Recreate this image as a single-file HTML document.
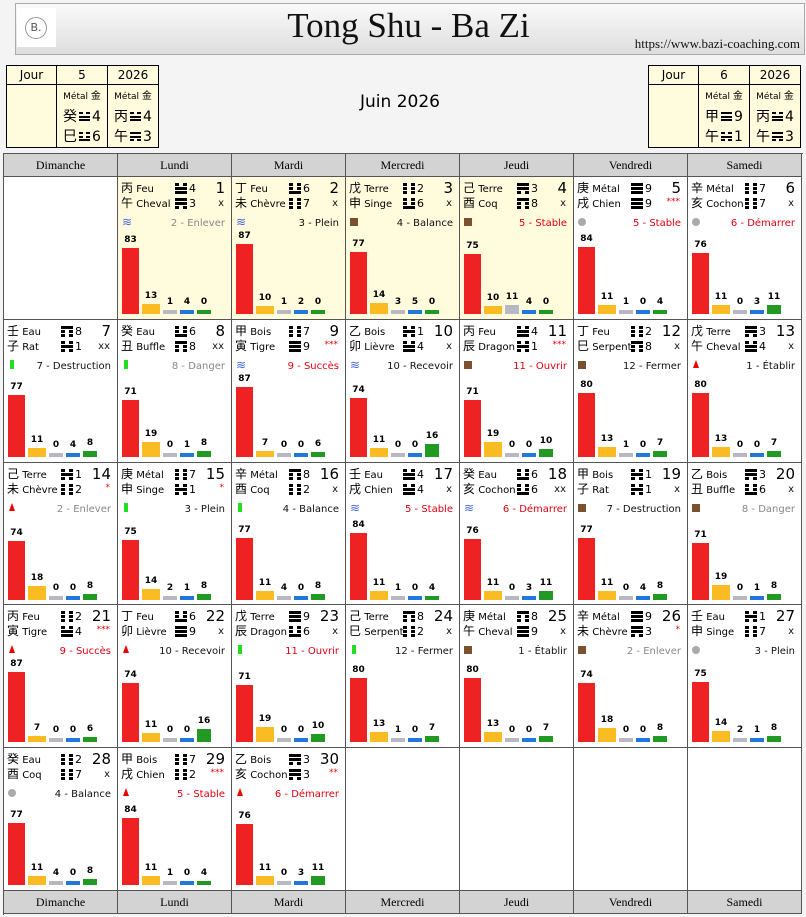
<!DOCTYPE html>
<html><head><meta charset="utf-8">
<style>
*{margin:0;padding:0;box-sizing:border-box}
body{width:806px;height:917px;background:#f4f4f4;position:relative;overflow:hidden;font-family:"DejaVu Sans","Liberation Sans","Noto Sans CJK SC",sans-serif;}
.a{position:absolute;white-space:nowrap}
#hdr{left:15px;top:3px;width:790px;height:52px;border:1px solid #aaa;background:linear-gradient(#fafafa,#dedede)}
.mt{position:absolute;border-collapse:collapse;background:#fffbdc;font-size:12px}
.mt td{border:1px solid #000;text-align:center;padding:0}
.cell{position:absolute;border-right:1px solid #555;border-bottom:1px solid #555;background:#fff;overflow:hidden}
.hd{position:absolute;background:#d3d3d3;border-right:1px solid #555;font-family:"Liberation Serif",serif;font-size:12px;text-align:center;line-height:22px}
.t{font-size:10px;position:absolute;white-space:nowrap;line-height:12px}
.c{font-family:"Noto Sans CJK SC",sans-serif;font-size:12px}
.tg{position:absolute;width:12px;height:11px}
.tg i{position:absolute;left:0;height:3px;background:#000}
.tgi{display:inline-block;position:relative;width:11px;height:10px;vertical-align:-1px;margin:0 2px}
.tgi i{position:absolute;left:0;height:2.5px;background:#000}
.bar{position:absolute}
.bv{position:absolute;font-size:9px;font-weight:bold;text-align:center;width:20px}
.ml{font-size:14px;line-height:19px}
</style></head><body>
<div id="hdr" class="a">
 <div class="a" style="left:1px;top:4px;width:39px;height:39px;background:#fff;"><div class="a" style="left:8px;top:9px;width:22px;height:22px;border:1px solid #999;border-radius:50%;font-size:11px;text-align:center;line-height:20px;color:#555">B.</div></div>
 <div class="a" style="left:0;width:785px;top:2px;text-align:center;font-family:'Liberation Serif',serif;font-size:35px;color:#111">Tong Shu - Ba Zi</div>
 <div class="a" style="right:4px;top:32px;font-family:'Liberation Serif',serif;font-size:13px;color:#111">https://www.bazi-coaching.com</div>
</div>
<table class="mt" style="left:6px;top:65px;width:153px;height:79px">
<tr style="height:19px"><td style="width:50px">Jour</td><td style="width:51px">5</td><td>2026</td></tr>
<tr><td></td><td class="ml"><span style="font-size:9px">Métal <span class="c" style="font-size:10px">金</span></span><br><span class="c" style="font-size:14px">癸</span><span class="tgi" data-n="4"></span>4<br><span class="c" style="font-size:14px">巳</span><span class="tgi" data-n="6"></span>6</td><td class="ml"><span style="font-size:9px">Métal <span class="c" style="font-size:10px">金</span></span><br><span class="c" style="font-size:14px">丙</span><span class="tgi" data-n="4"></span>4<br><span class="c" style="font-size:14px">午</span><span class="tgi" data-n="3"></span>3</td></tr></table>
<div class="a" style="left:360px;top:92px;font-size:17px;">Juin 2026</div>
<table class="mt" style="left:648px;top:65px;width:153px;height:79px">
<tr style="height:19px"><td style="width:50px">Jour</td><td style="width:51px">6</td><td>2026</td></tr>
<tr><td></td><td class="ml"><span style="font-size:9px">Métal <span class="c" style="font-size:10px">金</span></span><br><span class="c" style="font-size:14px">甲</span><span class="tgi" data-n="9"></span>9<br><span class="c" style="font-size:14px">午</span><span class="tgi" data-n="1"></span>1</td><td class="ml"><span style="font-size:9px">Métal <span class="c" style="font-size:10px">金</span></span><br><span class="c" style="font-size:14px">丙</span><span class="tgi" data-n="4"></span>4<br><span class="c" style="font-size:14px">午</span><span class="tgi" data-n="3"></span>3</td></tr></table>
<div id="grid" class="a" style="left:3px;top:153px;width:800px;height:762px;border-left:1px solid #555;border-top:1px solid #555"></div>
<script>
var days=["Dimanche","Lundi","Mardi","Mercredi","Jeudi","Vendredi","Samedi"];
var xs=[4,118,232,346,460,574,688,802];
var ys=[177,320,463,605,748,891];
var D=[
["丙","Feu",4,"午","Cheval",3,"x","w","2 - Enlever","g",[83,13,1,4,0]],
["丁","Feu",6,"未","Chèvre",7,"x","w","3 - Plein","k",[87,10,1,2,0]],
["戊","Terre",2,"申","Singe",6,"x","s","4 - Balance","k",[77,14,3,5,0]],
["己","Terre",3,"酉","Coq",8,"x","s","5 - Stable","r",[75,10,11,4,0]],
["庚","Métal",9,"戌","Chien",9,"***","o","5 - Stable","r",[84,11,1,0,4]],
["辛","Métal",7,"亥","Cochon",7,"x","o","6 - Démarrer","r",[76,11,0,3,11]],
["壬","Eau",8,"子","Rat",1,"xx","b","7 - Destruction","k",[77,11,0,4,8]],
["癸","Eau",6,"丑","Buffle",8,"xx","b","8 - Danger","g",[71,19,0,1,8]],
["甲","Bois",7,"寅","Tigre",9,"***","w","9 - Succès","r",[87,7,0,0,6]],
["乙","Bois",1,"卯","Lièvre",4,"x","w","10 - Recevoir","k",[74,11,0,0,16]],
["丙","Feu",4,"辰","Dragon",1,"***","s","11 - Ouvrir","r",[71,19,0,0,10]],
["丁","Feu",2,"巳","Serpent",8,"x","s","12 - Fermer","k",[80,13,1,0,7]],
["戊","Terre",3,"午","Cheval",4,"x","t","1 - Établir","k",[80,13,0,0,7]],
["己","Terre",1,"未","Chèvre",2,"*","t","2 - Enlever","g",[74,18,0,0,8]],
["庚","Métal",7,"申","Singe",1,"*","b","3 - Plein","k",[75,14,2,1,8]],
["辛","Métal",8,"酉","Coq",2,"x","b","4 - Balance","k",[77,11,4,0,8]],
["壬","Eau",4,"戌","Chien",4,"x","w","5 - Stable","r",[84,11,1,0,4]],
["癸","Eau",6,"亥","Cochon",6,"xx","w","6 - Démarrer","r",[76,11,0,3,11]],
["甲","Bois",1,"子","Rat",1,"x","s","7 - Destruction","k",[77,11,0,4,8]],
["乙","Bois",3,"丑","Buffle",6,"x","s","8 - Danger","g",[71,19,0,1,8]],
["丙","Feu",2,"寅","Tigre",4,"***","t","9 - Succès","r",[87,7,0,0,6]],
["丁","Feu",6,"卯","Lièvre",9,"x","t","10 - Recevoir","k",[74,11,0,0,16]],
["戊","Terre",9,"辰","Dragon",6,"x","b","11 - Ouvrir","r",[71,19,0,0,10]],
["己","Terre",8,"巳","Serpent",2,"x","b","12 - Fermer","k",[80,13,1,0,7]],
["庚","Métal",8,"午","Cheval",9,"x","s","1 - Établir","k",[80,13,0,0,7]],
["辛","Métal",9,"未","Chèvre",3,"*","s","2 - Enlever","g",[74,18,0,0,8]],
["壬","Eau",1,"申","Singe",7,"x","o","3 - Plein","k",[75,14,2,1,8]],
["癸","Eau",2,"酉","Coq",7,"x","o","4 - Balance","k",[77,11,4,0,8]],
["甲","Bois",7,"戌","Chien",2,"***","t","5 - Stable","r",[84,11,1,0,4]],
["乙","Bois",3,"亥","Cochon",3,"**","t","6 - Démarrer","r",[76,11,0,3,11]]];
// line patterns: 1 solid, 0 broken (top to bottom)
var PT={1:[0,1,0],2:[0,0,0],3:[1,0,0],4:[0,1,1],6:[0,0,0],7:[0,1,0],8:[0,1,0],9:[1,1,1]};
PT[6]=[0,0,1];PT[8]=[1,0,0];PT[2]=[0,0,0];PT[3]=[1,1,0];PT[7]=[0,0,0];
function tri(n,W,T,G){var p=PT[n]||[1,1,1],s="";for(var j=0;j<3;j++){var y=j*(T+G);
 if(p[j])s+='<i style="top:'+y+'px;width:'+W+'px;height:'+T+'px"></i>';
 else{var hw=Math.floor((W-3)/2);s+='<i style="top:'+y+'px;width:'+hw+'px;height:'+T+'px"></i><i style="top:'+y+'px;left:'+(W-hw)+'px;width:'+hw+'px;height:'+T+'px"></i>';}}
 return s;}
document.querySelectorAll(".tgi").forEach(function(e){e.innerHTML=tri(+e.dataset.n,11,2,1.5);});
var h="";
for(var i=0;i<7;i++){
 h+='<div class="hd" style="left:'+xs[i]+'px;top:154px;width:'+(xs[i+1]-xs[i])+'px;height:23px;border-bottom:1px solid #555">'+days[i]+'</div>';
 h+='<div class="hd" style="left:'+xs[i]+'px;top:891px;width:'+(xs[i+1]-xs[i])+'px;height:23px;border-bottom:1px solid #555">'+days[i]+'</div>';
}
var col={k:"#111",g:"#888",r:"#e00010"};
var ic={w:'<span style="color:#4466dd;font-size:12px">≋</span>',
s:'<div style="width:8px;height:8px;background:#7a5230;margin-top:2px"></div>',
o:'<div style="width:8px;height:8px;background:#aaa;border-radius:50%;margin-top:2px"></div>',
b:'<div style="width:4px;height:9px;background:#22dd22;margin-top:1px;margin-left:2px"></div>',
t:'<div style="width:0;height:0;border-left:3px solid transparent;border-right:3px solid transparent;border-bottom:8px solid #e00;margin-top:1px;margin-left:1px"></div>'};
var bc=["#ee2222","#fbbb22","#b8b8c4","#2277dd","#229922"];
var bx=[4,24,45,62,79],bw=[17,18,14,14,14];
for(var r=0;r<5;r++)for(var c=0;c<7;c++){
 var idx=r*7+c-1;var x=xs[c],y=ys[r],w=xs[c+1]-x,H=ys[r+1]-y;
 var bg=(idx>=0&&idx<4)?"#fffbdc":"#fff";
 h+='<div class="cell" style="left:'+x+'px;top:'+y+'px;width:'+w+'px;height:'+H+'px;background:'+bg+'">';
 if(idx>=0&&idx<30){var d=D[idx];
  h+='<div class="t" style="left:3px;top:5px"><span class="c">'+d[0]+'</span> '+d[1]+'</div>';
  h+='<div class="t" style="left:3px;top:20px"><span class="c">'+d[3]+'</span> '+d[4]+'</div>';
  h+='<div class="tg" style="left:57px;top:6px">'+tri(d[2],12,3,1)+'</div><div class="t" style="left:71px;top:6px;font-size:11px">'+d[2]+'</div>';
  h+='<div class="tg" style="left:57px;top:21px">'+tri(d[5],12,3,1)+'</div><div class="t" style="left:71px;top:21px;font-size:11px">'+d[5]+'</div>';
  h+='<div class="t" style="right:6px;top:3px;font-size:15px;line-height:16px">'+(idx+1)+'</div>';
  var st=d[6].indexOf("*")>=0;
  h+='<div class="t" style="right:7px;top:'+(st?19:21)+'px;font-size:'+(st?9:10)+'px;color:'+(st?"#e00":"#111")+'">'+d[6]+'</div>';
  h+='<div class="t" style="left:4px;top:39px">'+ic[d[7]]+'</div>';
  h+='<div class="t" style="right:6px;top:41px;color:'+col[d[9]]+'">'+d[8]+'</div>';
  for(var k=0;k<5;k++){var v=d[10][k];var bh=Math.max(4,Math.round(v*0.8));
   h+='<div class="bar" style="left:'+bx[k]+'px;width:'+bw[k]+'px;bottom:'+(H-138)+'px;height:'+bh+'px;background:'+bc[k]+'"></div>';
   h+='<div class="bv" style="left:'+(bx[k]+bw[k]/2-10)+'px;top:'+(138-bh-14)+'px">'+v+'</div>';}
 }
 h+='</div>';
}
document.getElementById("grid").insertAdjacentHTML("afterend",h);
</script>
</body></html>
